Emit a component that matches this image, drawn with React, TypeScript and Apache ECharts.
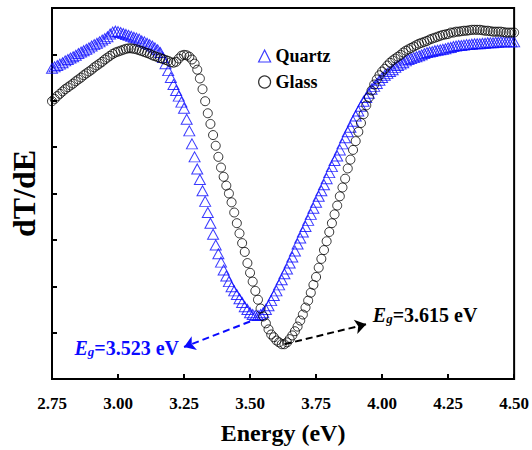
import React, { useEffect, useRef } from 'react';
import * as echarts from 'echarts';

// Energy grid of the sampled spectra (eV)
const ENERGY_START = 2.75;
const ENERGY_STEP = 0.01;

// dT/dE (arbitrary units), one value per 0.01 eV from 2.75 to 4.50
const quartz = [
  6.70, 6.73, 6.76, 6.79, 6.82, 6.86, 6.89, 6.92, 6.95, 6.98,
  7.02, 7.05, 7.08, 7.11, 7.14, 7.18, 7.21, 7.24, 7.27, 7.31,
  7.34, 7.38, 7.44, 7.48, 7.50, 7.49, 7.47, 7.45, 7.43, 7.41,
  7.39, 7.37, 7.35, 7.33, 7.29, 7.27, 7.24, 7.21, 7.18, 7.14,
  7.10, 7.04, 6.93, 6.80, 6.65, 6.50, 6.35, 6.22, 6.10, 5.97,
  5.84, 5.60, 5.35, 5.07, 4.79, 4.53, 4.30, 4.06, 3.83, 3.59,
  3.36, 3.12, 2.89, 2.70, 2.52, 2.35, 2.22, 2.10, 1.99, 1.90,
  1.82, 1.73, 1.65, 1.56, 1.50, 1.43, 1.39, 1.37, 1.37, 1.39,
  1.43, 1.50, 1.58, 1.69, 1.80, 1.90, 2.03, 2.14, 2.27, 2.37,
  2.50, 2.63, 2.76, 2.91, 3.04, 3.17, 3.29, 3.42, 3.55, 3.68,
  3.81, 3.94, 4.06, 4.19, 4.32, 4.45, 4.58, 4.71, 4.81, 4.94,
  5.07, 5.20, 5.33, 5.43, 5.56, 5.67, 5.78, 5.88, 5.99, 6.07,
  6.16, 6.25, 6.31, 6.37, 6.44, 6.50, 6.55, 6.59, 6.63, 6.67,
  6.72, 6.76, 6.79, 6.82, 6.86, 6.89, 6.91, 6.93, 6.95, 6.97,
  6.99, 7.02, 7.04, 7.05, 7.06, 7.08, 7.09, 7.10, 7.11, 7.12,
  7.14, 7.15, 7.17, 7.18, 7.19, 7.19, 7.20, 7.21, 7.21, 7.22,
  7.23, 7.23, 7.23, 7.24, 7.24, 7.25, 7.25, 7.25, 7.26, 7.26,
  7.27, 7.27, 7.27, 7.27, 7.27, 7.27,
];

const glass = [
  5.99, 6.04, 6.10, 6.15, 6.20, 6.25, 6.29, 6.33, 6.37, 6.42,
  6.46, 6.50, 6.55, 6.59, 6.63, 6.67, 6.72, 6.76, 6.80, 6.84,
  6.89, 6.93, 6.97, 7.01, 7.04, 7.06, 7.08, 7.10, 7.12, 7.13,
  7.13, 7.12, 7.11, 7.09, 7.07, 7.05, 7.03, 7.01, 6.98, 6.96,
  6.94, 6.92, 6.90, 6.88, 6.86, 6.83, 6.82, 6.84, 6.91, 6.97,
  6.99, 6.98, 6.95, 6.89, 6.80, 6.67, 6.48, 6.25, 5.99, 5.73,
  5.50, 5.26, 5.03, 4.79, 4.56, 4.36, 4.17, 4.00, 3.81, 3.59,
  3.36, 3.14, 2.93, 2.74, 2.50, 2.29, 2.10, 1.90, 1.71, 1.52,
  1.35, 1.20, 1.07, 0.96, 0.90, 0.83, 0.79, 0.75, 0.75, 0.79,
  0.86, 0.94, 1.03, 1.13, 1.26, 1.39, 1.54, 1.69, 1.86, 2.03,
  2.20, 2.40, 2.59, 2.78, 2.97, 3.17, 3.36, 3.55, 3.74, 3.94,
  4.13, 4.32, 4.54, 4.73, 4.94, 5.13, 5.33, 5.52, 5.71, 5.90,
  6.07, 6.22, 6.35, 6.46, 6.55, 6.63, 6.69, 6.76, 6.82, 6.87,
  6.91, 6.95, 6.99, 7.04, 7.08, 7.11, 7.14, 7.17, 7.20, 7.23,
  7.25, 7.27, 7.29, 7.32, 7.34, 7.36, 7.38, 7.40, 7.42, 7.43,
  7.44, 7.47, 7.47, 7.49, 7.49, 7.50, 7.51, 7.51, 7.52, 7.53,
  7.53, 7.53, 7.53, 7.52, 7.51, 7.51, 7.50, 7.49, 7.49, 7.49,
  7.49, 7.48, 7.47, 7.47, 7.47, 7.47,
];

// Band-gap annotations (data units)
const quartzGap = { label: '=3.523 eV', from: [3.5, 1.24], to: [3.25, 0.69], text: [2.835, 0.67] };
const glassGap = { label: '=3.615 eV', from: [3.63, 0.75], to: [3.94, 1.18], text: [3.965, 1.37] };

const BLUE = '#0a0aff';
const FONT = 'Liberation Serif, Times New Roman, serif';

export default function App() {
  const ref = useRef<HTMLDivElement>(null);

  useEffect(() => {
    if (!ref.current) return;
    const chart = echarts.init(ref.current, undefined, { renderer: 'svg' });
    const energy = quartz.map((_, i) => +(ENERGY_START + i * ENERGY_STEP).toFixed(2));
    const qData = quartz.map((v, i) => [energy[i], v]);
    const gData = glass.map((v, i) => [energy[i], v]);

    const arrow = (g: any, color: string) => ({
      silent: true,
      symbol: ['none', 'arrow'],
      symbolSize: 11,
      label: { show: false },
      lineStyle: { color, width: 2, type: [7, 4] },
      data: [[{ coord: g.from }, { coord: g.to }]],
    });

    chart.setOption({
      animation: false,
      backgroundColor: '#fff',
      grid: {
        left: 46, right: 15, top: 8, bottom: 68,
        show: true, borderColor: '#000', borderWidth: 2, backgroundColor: 'transparent',
      },
      legend: {
        orient: 'vertical',
        left: 253,
        top: 42,
        itemWidth: 12,
        itemHeight: 12,
        itemGap: 8,
        textStyle: { fontFamily: FONT, fontWeight: 'bold', fontSize: 18, color: '#000' },
        data: [
          { name: 'Quartz', icon: 'triangle', itemStyle: { color: 'transparent', borderColor: BLUE, borderWidth: 1.2 } },
          { name: 'Glass', icon: 'circle', itemStyle: { color: 'transparent', borderColor: '#000', borderWidth: 1.2 } },
        ],
      },
      xAxis: {
        type: 'value',
        min: 2.75,
        max: 4.5,
        interval: 0.25,
        name: 'Energy (eV)',
        nameLocation: 'middle',
        nameGap: 42,
        nameTextStyle: { fontFamily: FONT, fontWeight: 'bold', fontSize: 24, color: '#000' },
        axisLine: { lineStyle: { color: '#000', width: 2 } },
        axisTick: { inside: true, length: 5, lineStyle: { color: '#000', width: 2 } },
        axisLabel: {
          margin: 16,
          fontFamily: FONT, fontWeight: 'bold', fontSize: 17, color: '#000',
          showMinLabel: true, showMaxLabel: true,
          formatter: (v: number) => v.toFixed(2),
        },
        splitLine: { show: false },
      },
      yAxis: {
        type: 'value',
        min: 0,
        max: 8,
        interval: 1,
        name: 'dT/dE',
        nameLocation: 'middle',
        nameGap: 12,
        nameTextStyle: { fontFamily: FONT, fontWeight: 'bold', fontSize: 32, color: '#000' },
        axisLine: { lineStyle: { color: '#000', width: 2 } },
        axisTick: { inside: true, length: 5, lineStyle: { color: '#000', width: 2 } },
        axisLabel: { show: false },
        splitLine: { show: false },
      },
      series: [
        {
          name: 'Quartz',
          type: 'scatter',
          symbol: 'triangle',
          symbolSize: [11, 10],
          itemStyle: { color: 'transparent', borderColor: BLUE, borderWidth: 1 },
          data: qData,
          markLine: arrow(quartzGap, BLUE),
          z: 2,
        },
        {
          name: 'Glass',
          type: 'scatter',
          symbol: 'circle',
          symbolSize: 9,
          itemStyle: { color: 'transparent', borderColor: '#000', borderWidth: 1 },
          data: gData,
          markLine: arrow(glassGap, '#000'),
          z: 3,
        },
      ],
    });

    const label = (g: any, color: string) => {
      const [x, y] = chart.convertToPixel({ gridIndex: 0 }, g.text) as number[];
      return {
        type: 'text',
        x,
        y,
        z: 10,
        style: {
          text: '{e|E}{g|g}{t|' + g.label + '}',
          fill: color,
          align: 'left',
          verticalAlign: 'middle',
          rich: {
            e: { fontFamily: FONT, fontWeight: 'bold', fontStyle: 'italic', fontSize: 20, lineHeight: 20, fill: color },
            g: { fontFamily: FONT, fontWeight: 'bold', fontStyle: 'italic', fontSize: 13, lineHeight: 6, verticalAlign: 'bottom', fill: color },
            t: { fontFamily: FONT, fontWeight: 'bold', fontSize: 20, lineHeight: 20, fill: color },
          },
        },
      };
    };

    chart.setOption({ graphic: [label(quartzGap, BLUE), label(glassGap, '#000')] });

    return () => chart.dispose();
  }, []);

  return <div ref={ref} style={{ position: 'absolute', left: 0, top: 0, width: 532, height: 450 }} />;
}
